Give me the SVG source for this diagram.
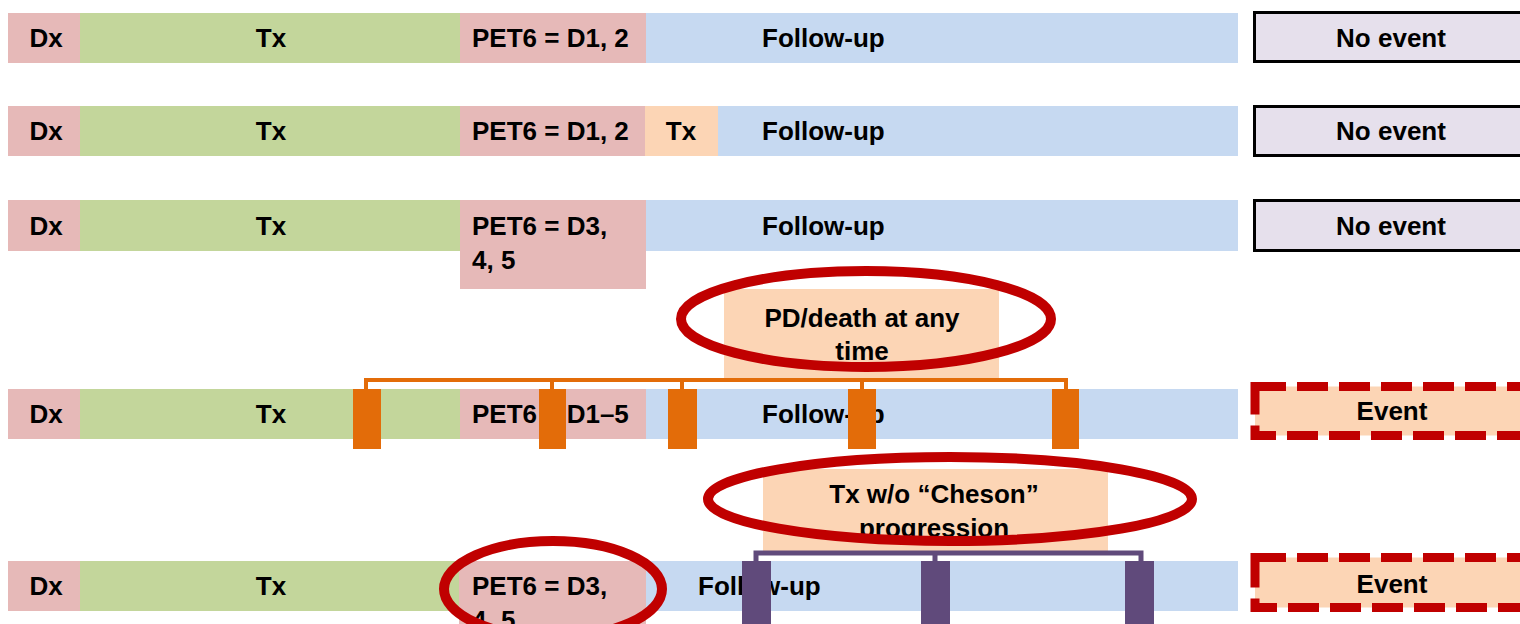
<svg xmlns="http://www.w3.org/2000/svg" width="1520" height="624" viewBox="0 0 1520 624">
<style>
text{font-family:"Liberation Sans",Arial,sans-serif;font-weight:bold;font-size:26px;fill:#000}
.m{text-anchor:middle}
.dx{fill:#E6B9B8}
.tx{fill:#C3D69B}
.fu{fill:#C6D9F1}
.or{fill:#FCD5B5}
.ne{fill:#E6E0EC;stroke:#000;stroke-width:3}
.ev{fill:#FCD5B5;stroke:#C00000;stroke-width:9;stroke-dasharray:31 11}
.ring{fill:none;stroke:#C00000;stroke-width:10}
.ob{fill:none;stroke:#E36C09;stroke-width:4}
.ot{fill:#E36C09}
.pb{fill:none;stroke:#604A7B;stroke-width:5}
.pt{fill:#604A7B}
</style>
<rect width="1520" height="624" fill="#fff"/>

<g id="row1">
<rect class="dx" x="8" y="13" width="72" height="50"/>
<rect class="tx" x="80" y="13" width="380" height="50"/>
<rect class="dx" x="460" y="13" width="186" height="50"/>
<rect class="fu" x="646" y="13" width="592" height="50"/>
<text class="m" x="46" y="47">Dx</text>
<text class="m" x="271" y="47">Tx</text>
<text x="472" y="47">PET6 = D1, 2</text>
<text x="762" y="47">Follow-up</text>
</g>
<g id="outcome1">
<rect class="ne" x="1254.5" y="12.5" width="280" height="49"/>
<text class="m" x="1391" y="47">No event</text>
</g>

<g id="row2">
<rect class="dx" x="8" y="106" width="72" height="50"/>
<rect class="tx" x="80" y="106" width="380" height="50"/>
<rect class="dx" x="460" y="106" width="185" height="50"/>
<rect class="or" x="645" y="106" width="73" height="50"/>
<rect class="fu" x="718" y="106" width="520" height="50"/>
<text class="m" x="46" y="140">Dx</text>
<text class="m" x="271" y="140">Tx</text>
<text x="472" y="140">PET6 = D1, 2</text>
<text class="m" x="681" y="140">Tx</text>
<text x="762" y="140">Follow-up</text>
</g>
<g id="outcome2">
<rect class="ne" x="1254.5" y="106.5" width="280" height="49"/>
<text class="m" x="1391" y="140">No event</text>
</g>

<g id="row3">
<rect class="dx" x="8" y="200" width="72" height="51"/>
<rect class="tx" x="80" y="200" width="380" height="51"/>
<rect class="dx" x="460" y="200" width="186" height="89"/>
<rect class="fu" x="646" y="200" width="592" height="51"/>
<text class="m" x="46" y="235">Dx</text>
<text class="m" x="271" y="235">Tx</text>
<text x="472" y="235">PET6 = D3,</text>
<text x="472" y="269">4, 5</text>
<text x="762" y="235">Follow-up</text>
</g>
<g id="outcome3">
<rect class="ne" x="1254.5" y="200.5" width="280" height="50"/>
<text class="m" x="1391" y="235">No event</text>
</g>

<g id="pd-death">
<rect class="or" x="724" y="289" width="275" height="89"/>
<text class="m" x="862" y="327">PD/death at any</text>
<text class="m" x="862" y="360">time</text>
</g>

<g id="row4">
<rect class="dx" x="8" y="389" width="72" height="50"/>
<rect class="tx" x="80" y="389" width="380" height="50"/>
<rect class="dx" x="460" y="389" width="186" height="50"/>
<rect class="fu" x="646" y="389" width="592" height="50"/>
<text class="m" x="46" y="423">Dx</text>
<text class="m" x="271" y="423">Tx</text>
<text x="472" y="423">PET6 = D1–5</text>
<text x="762" y="423">Follow-up</text>
</g>
<g id="outcome4">
<rect class="ev" x="1255" y="386.5" width="280" height="49"/>
<text class="m" x="1392" y="420">Event</text>
</g>

<g id="tx-wo-cheson">
<rect class="or" x="763" y="469" width="345" height="82"/>
<text class="m" x="934" y="503">Tx w/o “Cheson”</text>
<text class="m" x="934" y="537">progression</text>
</g>

<g id="row5">
<rect class="dx" x="8" y="561" width="72" height="50"/>
<rect class="tx" x="80" y="561" width="379" height="50"/>
<rect class="fu" x="646" y="561" width="592" height="50"/>
<rect class="dx" x="459" y="561" width="187" height="80"/>
<text class="m" x="46" y="595">Dx</text>
<text class="m" x="271" y="595">Tx</text>
<text x="472" y="595">PET6 = D3,</text>
<text x="472" y="629">4, 5</text>
<text x="698" y="595">Follow-up</text>
</g>
<g id="outcome5">
<rect class="ev" x="1255" y="557.5" width="280" height="50"/>
<text class="m" x="1392" y="593">Event</text>
</g>

<g id="connectors">
<path class="ob" d="M366 390V380H1066V390M552 380V390M682 380V390M862 380V390"/>
<rect class="ot" x="353" y="389" width="28" height="60"/>
<rect class="ot" x="539" y="389" width="27" height="60"/>
<rect class="ot" x="668" y="389" width="29" height="60"/>
<rect class="ot" x="848" y="389" width="28" height="60"/>
<rect class="ot" x="1052" y="389" width="27" height="60"/>
<path class="pb" d="M756 562V553H1141V562M935 553V562"/>
<rect class="pt" x="742" y="561" width="29" height="63"/>
<rect class="pt" x="921" y="561" width="29" height="63"/>
<rect class="pt" x="1125" y="561" width="29" height="63"/>
</g>

<g id="highlights">
<ellipse class="ring" cx="866" cy="319" rx="185" ry="48"/>
<ellipse class="ring" cx="950" cy="499" rx="242" ry="42"/>
<ellipse class="ring" cx="553" cy="589" rx="109" ry="48"/>
</g>
</svg>
